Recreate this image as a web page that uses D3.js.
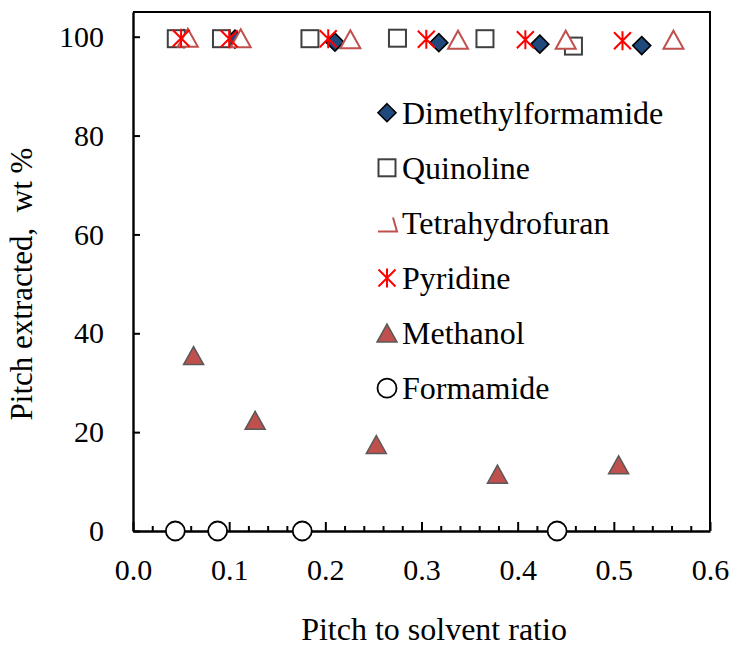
<!DOCTYPE html>
<html>
<head>
<meta charset="utf-8">
<script src="https://cdn.jsdelivr.net/npm/d3@7/dist/d3.min.js"></script>
<style>
  html, body { margin: 0; padding: 0; background: #fff; }
  svg text { font-family: "Liberation Serif", "Times New Roman", serif; fill: #000; }
</style>
</head>
<body>
<svg id="chart" width="734" height="646"></svg>
<script>
// Pitch extraction by solvent, as a function of pitch-to-solvent ratio
const seriesNames = ["Dimethylformamide", "Quinoline", "Tetrahydrofuran", "Pyridine", "Methanol", "Formamide"];

const dmfX = [0.053, 0.106, 0.210, 0.318, 0.423, 0.529];
const dmfY = [99.6, 99.5, 98.9, 98.8, 98.5, 98.2];

const quinolineX = [0.045, 0.092, 0.184, 0.275, 0.366, 0.458];
const quinolineY = [99.6, 99.6, 99.6, 99.7, 99.6, 98.1];

const thfX = [0.057, 0.112, 0.226, 0.338, 0.450, 0.562];
const thfY = [99.8, 99.7, 99.5, 99.4, 99.4, 99.4];

const pyridineX = [0.050, 0.100, 0.203, 0.305, 0.408, 0.509];
const pyridineY = [99.7, 99.6, 99.6, 99.5, 99.4, 99.2];

const methanolX = [0.063, 0.127, 0.253, 0.379, 0.505];
const methanolY = [35.5, 22.4, 17.5, 11.5, 13.4];

const formamideX = [0.044, 0.088, 0.176, 0.441];
const formamideY = [0, 0, 0, 0];

const xTicks = [0.0, 0.1, 0.2, 0.3, 0.4, 0.5, 0.6];
const yTicks = [0, 20, 40, 60, 80, 100];

const xTitle = "Pitch to solvent ratio";
const yTitle = "Pitch extracted,  wt %";

// ---- layout ----
const FONT = "'Liberation Serif', 'Times New Roman', serif";
const svg = d3.select("#chart").attr("font-family", FONT);
const plotLeft = 133, plotRight = 710, plotTop = 12, plotBottom = 531;

const x = d3.scaleLinear().domain([0, 0.6]).range([plotLeft, plotRight]);
const y = d3.scaleLinear().domain([0, 105]).range([plotBottom, plotTop]);

// ---- marker shapes ----
const shapes = {
  diamond: (g) => g.append("path")
      .attr("d", "M0,-9L9,0L0,9L-9,0Z")
      .attr("fill", "#1F497D").attr("stroke", "#000").attr("stroke-width", 1.6),
  square: (g) => g.append("rect")
      .attr("x", -8.5).attr("y", -8.5).attr("width", 17).attr("height", 17)
      .attr("fill", "#fff").attr("stroke", "#404040").attr("stroke-width", 2),
  hollowTriangle: (g) => g.append("path")
      .attr("d", "M0,-9L10,9L-10,9Z")
      .attr("fill", "#fff").attr("stroke", "#C0504D").attr("stroke-width", 2),
  star: (g) => g.append("path")
      .attr("d", "M0,-9.5L0,9.5M-8.5,-8.5L8.5,8.5M-8.5,8.5L8.5,-8.5")
      .attr("fill", "none").attr("stroke", "#FF0000").attr("stroke-width", 2),
  filledTriangle: (g) => g.append("path")
      .attr("d", "M0,-9L10,9L-10,9Z")
      .attr("fill", "#C0504D").attr("stroke", "#595959").attr("stroke-width", 1.5),
  circle: (g) => g.append("circle")
      .attr("r", 9.5)
      .attr("fill", "#fff").attr("stroke", "#000").attr("stroke-width", 1.8)
};

const series = [
  { name: seriesNames[0], xs: dmfX, ys: dmfY, shape: "diamond" },
  { name: seriesNames[1], xs: quinolineX, ys: quinolineY, shape: "square" },
  { name: seriesNames[2], xs: thfX, ys: thfY, shape: "hollowTriangle" },
  { name: seriesNames[3], xs: pyridineX, ys: pyridineY, shape: "star" },
  { name: seriesNames[4], xs: methanolX, ys: methanolY, shape: "filledTriangle" },
  { name: seriesNames[5], xs: formamideX, ys: formamideY, shape: "circle" }
];

// ---- plot frame (top and right edges) ----
svg.append("path")
  .attr("d", `M${plotLeft},${plotTop}H${plotRight}V${plotBottom}`)
  .attr("fill", "none").attr("stroke", "#000").attr("stroke-width", 2);

// ---- axes ----
const xMinor = d3.range(0, 0.6001, 0.02).filter(v => Math.abs(v * 10 - Math.round(v * 10)) > 1e-6);

svg.append("g")
  .attr("transform", `translate(0,${plotBottom})`)
  .call(d3.axisBottom(x).tickValues(xMinor).tickSizeInner(-5).tickSizeOuter(0).tickFormat(""))
  .call(g => g.select(".domain").remove())
  .call(g => g.selectAll("line").attr("stroke", "#000").attr("stroke-width", 2));

const xAxis = svg.append("g")
  .attr("transform", `translate(0,${plotBottom})`)
  .call(d3.axisBottom(x).tickValues(xTicks).tickSizeInner(-9).tickSizeOuter(0)
        .tickPadding(28).tickFormat(d3.format(".1f")))
  .attr("font-family", FONT).attr("font-size", 30);
xAxis.select(".domain").attr("stroke", "#000").attr("stroke-width", 2.4);
xAxis.selectAll("line").attr("stroke", "#000").attr("stroke-width", 2);

const yAxis = svg.append("g")
  .attr("transform", `translate(${plotLeft},0)`)
  .call(d3.axisLeft(y).tickValues(yTicks).tickSizeInner(-7).tickSizeOuter(0).tickPadding(29))
  .attr("font-family", FONT).attr("font-size", 30);
yAxis.select(".domain").attr("stroke", "#000").attr("stroke-width", 2.4);
yAxis.selectAll("line").attr("stroke", "#000").attr("stroke-width", 2);

// ---- axis titles ----
svg.append("text")
  .attr("x", 434).attr("y", 640)
  .attr("text-anchor", "middle")
  .style("font-size", "32px")
  .text(xTitle);

svg.append("text")
  .attr("transform", "translate(32,284) rotate(-90)")
  .attr("text-anchor", "middle")
  .attr("xml:space", "preserve")
  .style("white-space", "pre")
  .style("font-size", "31px")
  .text(yTitle);

// ---- points ----
series.forEach(s => {
  const g = svg.append("g").attr("class", "series");
  s.xs.forEach((xv, i) => {
    const m = g.append("g").attr("transform", `translate(${x(xv)},${y(s.ys[i])})`);
    shapes[s.shape](m);
  });
});

// ---- legend ----
const legendX = 387, legendY0 = 112.7, legendStep = 55.1;
const legend = svg.append("g");
series.forEach((s, i) => {
  const row = legend.append("g").attr("transform", `translate(${legendX},${legendY0 + i * legendStep})`);
  if (s.shape === "hollowTriangle") {
    // the legend swatch for this series is a partial triangle outline
    row.append("path")
      .attr("d", "M-9,8.5L10,8.5L6,-5.5")
      .attr("fill", "none").attr("stroke", "#C0504D").attr("stroke-width", 2);
  } else {
    shapes[s.shape](row);
  }
  row.append("text")
    .attr("x", 15).attr("dy", "0.35em")
    .style("font-size", "32px")
    .text(s.name);
});
</script>
</body>
</html>
